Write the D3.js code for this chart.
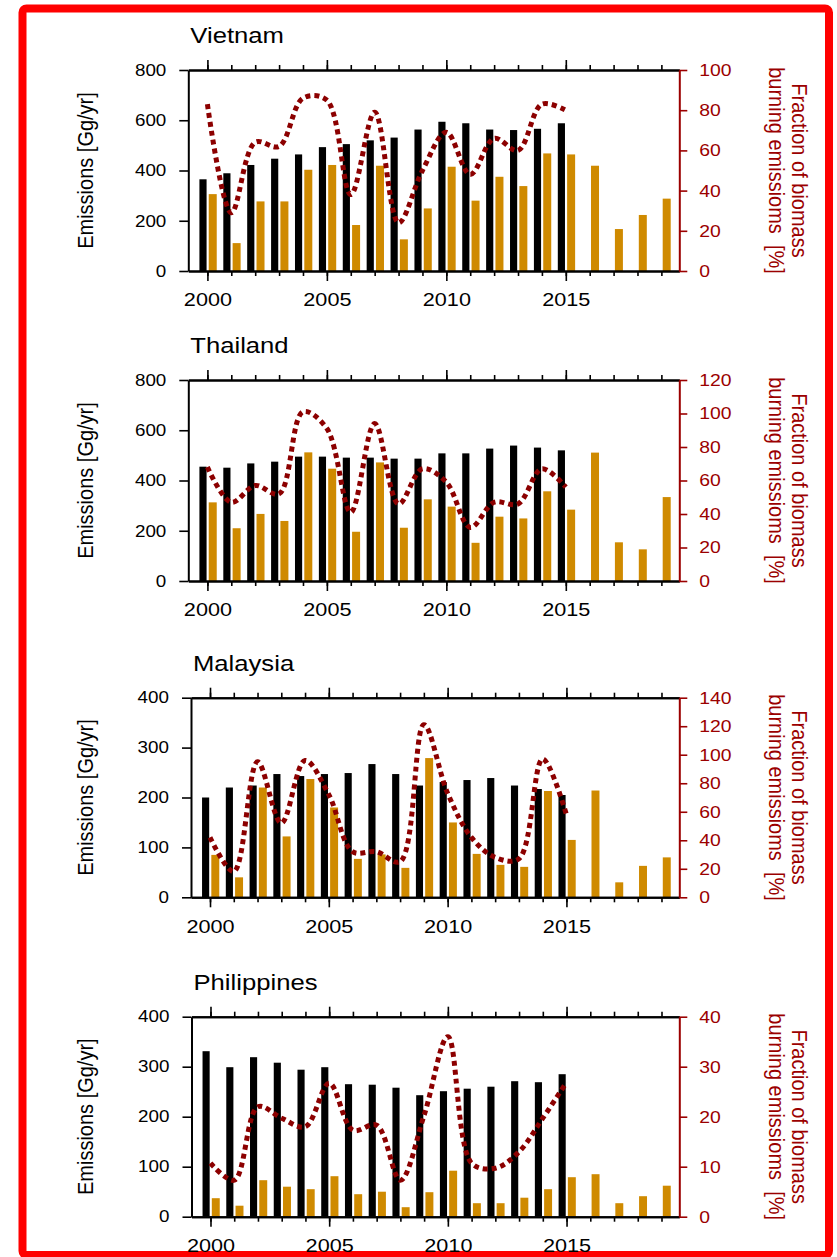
<!DOCTYPE html>
<html>
<head>
<meta charset="utf-8">
<script src="https://cdn.jsdelivr.net/npm/d3@7"></script>
<style>
  body { margin: 0; background: #fff; }
  text { font-family: "Liberation Sans", Arial, sans-serif; }
</style>
</head>
<body>
<div id="chart-container"></div>
<script>
// categories
var years = [2000, 2001, 2002, 2003, 2004, 2005, 2006, 2007, 2008, 2009,
             2010, 2011, 2012, 2013, 2014, 2015, 2016, 2017, 2018, 2019];
var majorYears = [2000, 2005, 2010, 2015];

// total emissions (black bars, 2000-2015) [Gg/yr]
var vietnamTotal     = [365, 389, 422, 447, 464, 493, 505, 520, 531, 563, 594, 588, 563, 561, 566, 588];
var thailandTotal    = [455, 451, 468, 475, 495, 495, 491, 491, 487, 487, 508, 508, 527, 539, 531, 520];
var malaysiaTotal    = [200, 220, 224, 247, 243, 247, 249, 267, 247, 224, 231, 235, 239, 224, 217, 205];
var philippinesTotal = [331, 299, 319, 308, 294, 299, 265, 264, 258, 243, 251, 256, 260, 271, 269, 285];

// biomass burning emissions (gold bars, 2000-2019) [Gg/yr]
var vietnamBiomass     = [306, 111, 277, 277, 403, 422, 183, 419, 126, 249, 415, 280, 375, 338, 468, 464, 419, 167, 223, 288];
var thailandBiomass    = [313, 210, 267, 239, 512, 447, 196, 472, 212, 325, 296, 152, 256, 249, 357, 284, 511, 154, 126, 334];
var malaysiaBiomass    = [85, 40, 220, 122, 237, 180, 77, 86, 59, 279, 150, 87, 65, 61, 213, 115, 214, 30, 63, 80];
var philippinesBiomass = [37, 22, 73, 60, 55, 81, 45, 50, 19, 49, 92, 27, 27, 38, 55, 79, 85, 27, 41, 62];

// fraction of biomass burning emissions (dotted line, 2000-2015) [%]
var vietnamFraction     = [83, 29, 64, 62, 86, 85, 38, 79, 24, 50, 69, 48, 66, 60, 83, 80];
var thailandFraction    = [68, 47, 57, 52, 101, 91, 41, 94, 46, 67, 59, 32, 47, 46, 67, 56];
var malaysiaFraction    = [42, 18, 95, 52, 96, 72, 32, 32, 25, 121, 73, 42, 28, 27, 97, 58];
var philippinesFraction = [10.7, 7.3, 22, 19.7, 18, 26.7, 17.3, 18.3, 7.3, 20.3, 36, 10.7, 9.7, 13, 19.7, 26.9];

// tick labels
var emisTicksLarge = [0, 200, 400, 600, 800];
var emisTicksSmall = [0, 100, 200, 300, 400];
var fracTicksVietnam = [0, 20, 40, 60, 80, 100];
var fracTicksThailand = [0, 20, 40, 60, 80, 100, 120];
var fracTicksMalaysia = [0, 20, 40, 60, 80, 100, 120, 140];
var fracTicksPhilippines = [0, 10, 20, 30, 40];

var panels = [
    { name: "Vietnam", total: vietnamTotal, biomass: vietnamBiomass, fraction: vietnamFraction,
      yTicks: emisTicksLarge, y2Ticks: fracTicksVietnam, left: 188.3, top: 70, bottom: 271 },
    { name: "Thailand", total: thailandTotal, biomass: thailandBiomass, fraction: thailandFraction,
      yTicks: emisTicksLarge, y2Ticks: fracTicksThailand, left: 188.3, top: 380, bottom: 581 },
    { name: "Malaysia", total: malaysiaTotal, biomass: malaysiaBiomass, fraction: malaysiaFraction,
      yTicks: emisTicksSmall, y2Ticks: fracTicksMalaysia, left: 191, top: 697.7, bottom: 897.3 },
    { name: "Philippines", total: philippinesTotal, biomass: philippinesBiomass, fraction: philippinesFraction,
      yTicks: emisTicksSmall, y2Ticks: fracTicksPhilippines, left: 191.5, top: 1016.7, bottom: 1216.7 }
];

var rightEdge = 679.3;
var stretchX = 1.14;
var darkRed = "#9b0000";
var dotRed = "#8c0000";
var gold = "#cf8a00";

var svg = d3.select("#chart-container")
    .append("svg")
    .attr("width", 837)
    .attr("height", 1257);

svg.append("rect")
    .attr("width", 837).attr("height", 1257)
    .attr("fill", "#fff");

// red frame
svg.append("rect")
    .attr("x", 22.5).attr("y", 8.5)
    .attr("width", 806.5).attr("height", 1246.5)
    .attr("rx", 4)
    .attr("fill", "none")
    .attr("stroke", "#ff0000")
    .attr("stroke-width", 8);

// widen text horizontally like the original figure
function stretch(sel) {
    sel.each(function() {
        var t = d3.select(this);
        var tx = +t.attr("x") || 0;
        t.attr("x", 0).attr("transform", "translate(" + tx + ",0) scale(" + stretchX + ",1)");
    });
}

function styleAxis(g, color) {
    g.select(".domain").attr("stroke", color).attr("stroke-width", 2);
    g.selectAll(".tick line").attr("stroke", color).attr("stroke-width", 1.6);
}

panels.forEach(function(p) {
    var g = svg.append("g");

    var xScale = d3.scaleLinear().domain([1999.2, 2019.75]).range([p.left, rightEdge]);
    var yScale = d3.scaleLinear().domain([0, p.yTicks[p.yTicks.length - 1]]).range([p.bottom, p.top]);
    var y2Scale = d3.scaleLinear().domain([0, p.y2Ticks[p.y2Ticks.length - 1]]).range([p.bottom, p.top]);

    // black bars (total)
    g.selectAll(".total")
        .data(p.total)
        .enter().append("rect")
        .attr("x", (d, i) => xScale(years[i] - 0.335))
        .attr("width", xScale(2000.3) - xScale(2000))
        .attr("y", d => yScale(d))
        .attr("height", d => p.bottom - yScale(d))
        .attr("fill", "#000");

    // gold bars (biomass burning)
    g.selectAll(".biomass")
        .data(p.biomass)
        .enter().append("rect")
        .attr("x", (d, i) => xScale(years[i] + 0.055))
        .attr("width", xScale(2000.335) - xScale(2000))
        .attr("y", d => yScale(d))
        .attr("height", d => p.bottom - yScale(d))
        .attr("fill", gold);

    // dotted fraction line
    var line = d3.line()
        .x((d, i) => xScale(years[i]))
        .y(d => y2Scale(d))
        .curve(d3.curveCatmullRom.alpha(0.5));

    g.append("path")
        .datum(p.fraction)
        .attr("fill", "none")
        .attr("stroke", dotRed)
        .attr("stroke-width", 5)
        .attr("stroke-dasharray", "5,4")
        .attr("d", line);

    // top axis: minor + major ticks
    var topMinor = g.append("g")
        .attr("transform", "translate(0," + p.top + ")")
        .call(d3.axisTop(xScale).tickValues(years).tickSize(5).tickSizeOuter(0).tickFormat(""));
    styleAxis(topMinor, "#000");
    var topMajor = g.append("g")
        .attr("transform", "translate(0," + p.top + ")")
        .call(d3.axisTop(xScale).tickValues(majorYears).tickSize(10).tickSizeOuter(0).tickFormat(""));
    styleAxis(topMajor, "#000");

    // bottom axis
    var botMinor = g.append("g")
        .attr("transform", "translate(0," + p.bottom + ")")
        .call(d3.axisBottom(xScale).tickValues(years).tickSize(5).tickSizeOuter(0).tickFormat(""));
    styleAxis(botMinor, "#000");
    var botMajor = g.append("g")
        .attr("transform", "translate(0," + p.bottom + ")")
        .call(d3.axisBottom(xScale).tickValues(majorYears).tickSize(10).tickPadding(12)
            .tickSizeOuter(0).tickFormat(d3.format("d")));
    styleAxis(botMajor, "#000");
    botMajor.selectAll("text").attr("font-size", 19).attr("fill", "#000");
    stretch(botMajor.selectAll("text"));

    // left axis
    var leftAx = g.append("g")
        .attr("transform", "translate(" + p.left + ",0)")
        .call(d3.axisLeft(yScale).tickValues(p.yTicks).tickSize(9).tickPadding(13).tickSizeOuter(0));
    styleAxis(leftAx, "#000");
    leftAx.selectAll("text").attr("font-size", 16.5).attr("fill", "#000");
    stretch(leftAx.selectAll("text"));

    // right axis
    var rightAx = g.append("g")
        .attr("transform", "translate(" + rightEdge + ",0)")
        .call(d3.axisRight(y2Scale).tickValues(p.y2Ticks).tickSize(8).tickPadding(12).tickSizeOuter(0));
    styleAxis(rightAx, darkRed);
    rightAx.selectAll("text").attr("font-size", 17).attr("fill", darkRed);
    stretch(rightAx.selectAll("text"));

    var midY = (p.top + p.bottom) / 2;

    // title
    g.append("text")
        .attr("transform", "translate(" + (p.left + 2) + "," + (p.top - 27) + ") scale(" + stretchX + ",1)")
        .attr("font-size", 22.5)
        .attr("fill", "#000")
        .text(p.name);

    // left axis label
    g.append("text")
        .attr("transform", "translate(93," + midY + ") scale(" + stretchX + ",1) rotate(-90)")
        .attr("text-anchor", "middle")
        .attr("font-size", 20)
        .attr("fill", "#000")
        .text("Emissions [Gg/yr]");

    // right axis label (two lines)
    g.append("text")
        .attr("transform", "translate(792," + midY + ") scale(" + stretchX + ",1) rotate(90)")
        .attr("text-anchor", "middle")
        .attr("font-size", 20)
        .attr("fill", darkRed)
        .text("Fraction of biomass");
    g.append("text")
        .attr("transform", "translate(769," + midY + ") scale(" + stretchX + ",1) rotate(90)")
        .attr("text-anchor", "middle")
        .attr("font-size", 20)
        .attr("fill", darkRed)
        .style("white-space", "pre")
        .text("burning emissioms  [%]");
});
</script>
</body>
</html>
